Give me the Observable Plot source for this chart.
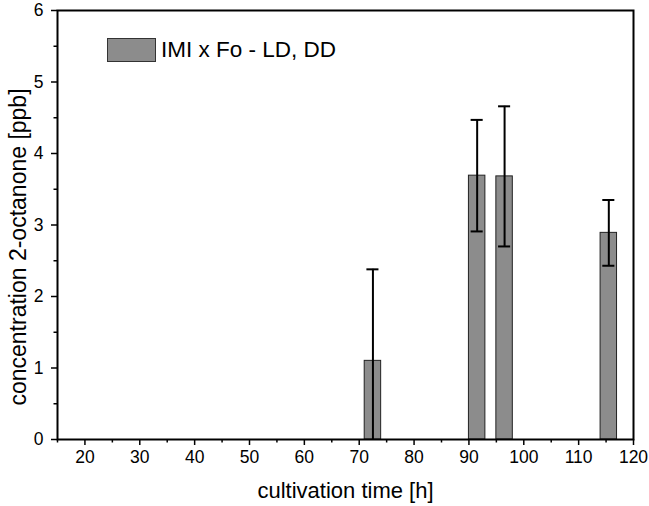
<!DOCTYPE html>
<html>
<head>
<meta charset="utf-8">
<script src="https://cdn.jsdelivr.net/npm/d3@7"></script>
<script src="https://cdn.jsdelivr.net/npm/@observablehq/plot@0.6"></script>
<style>
  html, body { margin: 0; padding: 0; background: #fff; }
  #wrap { position: relative; width: 649px; height: 506px; font-family: "Liberation Sans", Arial, sans-serif; }
  #legend { position: absolute; left: 107px; top: 37px; display: flex; align-items: center; font-size: 22.5px; color: #000; }
  #legend .sw { width: 49px; height: 24px; background: #8c8c8c; border: 1px solid #333; margin-right: 5px; box-sizing: border-box; }
  #wrap svg [aria-label="x-axis tick label"], #wrap svg [aria-label="y-axis tick label"] { font-size: 17.5px !important; }
  #wrap svg [aria-label="x-axis tick label"] text, #wrap svg [aria-label="y-axis tick label"] text { font-size: 17.5px !important; }
  #wrap svg [aria-label="x-axis label"], #wrap svg [aria-label="x-axis label"] text { font-size: 22px !important; }
</style>
</head>
<body>
<div id="wrap"><div id="legend"><div class="sw"></div><span>IMI x Fo - LD, DD</span></div></div>
<script>
const seriesName = "IMI x Fo - LD, DD";
const xLabel = "cultivation time [h]";
const yLabel = "concentration 2-octanone [ppb]";
const times = [72.5, 91.5, 96.5, 115.5];
const concentration = [1.10, 3.69, 3.68, 2.89];
const errors = [1.28, 0.78, 0.98, 0.46];
const xTicks = [20, 30, 40, 50, 60, 70, 80, 90, 100, 110, 120];
const yTicks = [0, 1, 2, 3, 4, 5, 6];
const barWidth = 3;
const capWidth = 1.1;

const data = times.map((t, i) => ({t, c: concentration[i], e: errors[i]}));
const xMinor = d3.range(15, 121, 5).filter(v => !xTicks.includes(v));
const yMinor = d3.range(0.5, 6, 1);

const plot = Plot.plot({
  width: 649,
  height: 506,
  marginLeft: 57,
  marginRight: 16,
  marginTop: 10,
  marginBottom: 67,
  style: {fontFamily: "'Liberation Sans', Arial, sans-serif", fontSize: "17px", color: "#000", background: "#fff"},
  x: {domain: [15, 120]},
  y: {domain: [0, 6]},
  marks: [
    Plot.rect(data, {x1: d => d.t - barWidth / 2, x2: d => d.t + barWidth / 2, y1: 0, y2: "c", fill: "#8c8c8c", stroke: "#222", strokeWidth: 1}),
    Plot.ruleX(data, {x: "t", y1: d => Math.max(0, d.c - d.e), y2: d => d.c + d.e, stroke: "#000", strokeWidth: 2}),
    Plot.ruleY(data, {y: d => d.c + d.e, x1: d => d.t - capWidth, x2: d => d.t + capWidth, stroke: "#000", strokeWidth: 2}),
    Plot.ruleY(data.filter(d => d.c - d.e >= 0), {y: d => d.c - d.e, x1: d => d.t - capWidth, x2: d => d.t + capWidth, stroke: "#000", strokeWidth: 2}),
    Plot.axisX({ticks: xTicks, tickFormat: "d", tickSize: 6, tickPadding: 5, strokeWidth: 1.5, label: xLabel, labelAnchor: "center", labelArrow: "none", labelOffset: 58}),
    Plot.axisX({ticks: xMinor, tickSize: 3.5, text: null, strokeWidth: 1.5, label: null}),
    Plot.axisY({ticks: yTicks, tickFormat: "d", tickSize: 6, tickPadding: 8, strokeWidth: 1.5, label: null}),
    Plot.axisY({ticks: yMinor, tickSize: 3.5, text: null, strokeWidth: 1.5, label: null}),
    Plot.text([yLabel], {text: d => d, frameAnchor: "left", textAnchor: "middle", lineAnchor: "middle", rotate: -90, dx: -39, dy: 22, fontSize: 23, fill: "#000"}),
    Plot.frame({stroke: "#000", strokeWidth: 2})
  ]
});
plot.style.position = "absolute";
plot.style.left = "0";
plot.style.top = "0";
const wrap = document.getElementById("wrap");
wrap.insertBefore(plot, wrap.firstChild);
</script>
</body>
</html>
